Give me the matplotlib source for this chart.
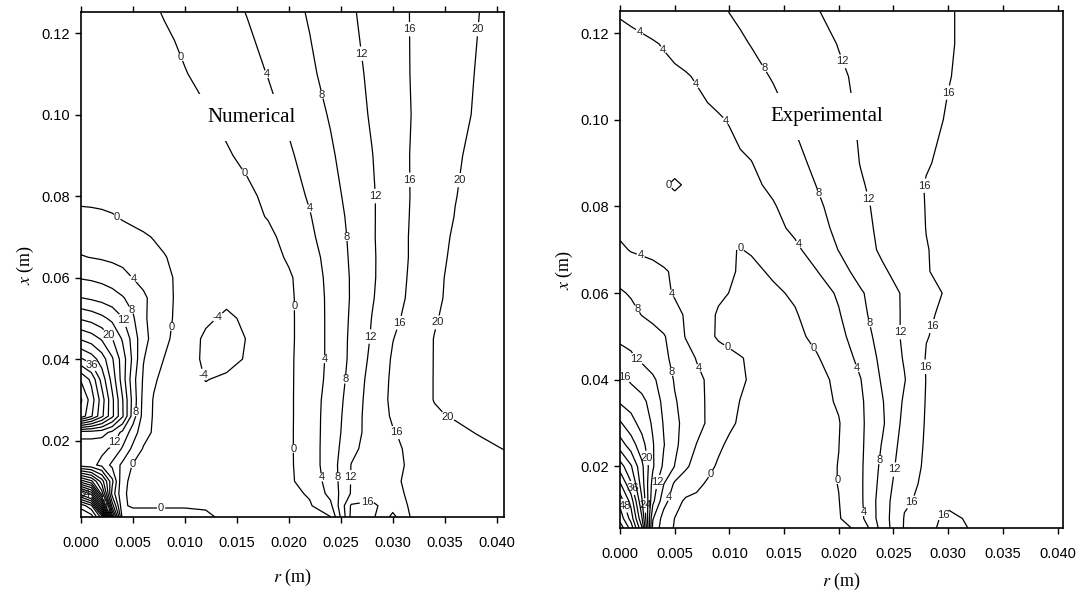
# Axial velocity contours, numerical vs experimental, recreated from the figure.
import numpy as np
import matplotlib
matplotlib.use("Agg")
import matplotlib.pyplot as plt
from matplotlib.ticker import FormatStrFormatter

plt.rcParams['font.family'] = 'Liberation Sans'
plt.rcParams['mathtext.fontset'] = 'stix'
plt.rcParams['contour.negative_linestyle'] = 'solid'

# ---- numerical field, rows = x, cols = r ----
r_num = [0, 0.001, 0.002, 0.003, 0.004, 0.005, 0.006, 0.007, 0.008, 0.009, 0.010,
         0.012, 0.014, 0.016, 0.018, 0.020, 0.022, 0.024, 0.026, 0.028, 0.030,
         0.032, 0.034, 0.036, 0.038, 0.041]
x_num = [0.00125, 0.004, 0.007, 0.010, 0.014, 0.018, 0.022, 0.026, 0.030, 0.035,
         0.040, 0.045, 0.050, 0.055, 0.060, 0.065, 0.070, 0.075, 0.080, 0.090,
         0.100, 0.110, 0.125]
v_num = [
    [92, 90, 78, 30, 2, 2, 2, 2, 2, 2, 2, 0.8, -1.0, -1.2, -1.2, -1.0, -0.6, -0.1, 17.0, 16.8, 11.0, 17.0, 17.2, 17.4, 17.6, 18.0],
    [86.5, 81, 55, 18, 0.5, -0.5, -0.5, -0.5, -0.5, -0.5, -0.5, -0.5, -1.0, -1.2, -1.2, -1.0, -0.4, 3.0, 16.5, 17.0, 13.5, 17.0, 17.2, 17.4, 17.6, 18.0],
    [66, 58, 34, 10.5, 0.3, -0.5, -0.8, -1.0, -1.2, -1.5, -1.7, -2.0, -2.0, -1.8, -1.5, -1.0, 0.4, 5.2, 12.3, 14.3, 15.4, 16.5, 17.0, 17.4, 17.8, 18.3],
    [42, 37, 26, 13, 0.5, -0.5, -1.0, -1.2, -1.5, -1.8, -2.0, -2.2, -2.2, -2.0, -1.5, -0.6, 1.6, 5.6, 12.2, 13.9, 15.6, 16.6, 17.0, 17.4, 17.8, 18.4],
    [14, 13, 11, 7, 3, -0.3, -1.0, -1.3, -1.6, -1.9, -2.2, -2.4, -2.4, -2.1, -1.5, -0.6, 2.1, 5.9, 12.1, 13.7, 15.5, 16.4, 17.0, 17.6, 18.2, 19.0],
    [13, 13, 12.8, 11.5, 7.5, 3.0, -0.3, -1.2, -1.7, -2.0, -2.3, -2.5, -2.5, -2.2, -1.6, -0.6, 2.2, 5.8, 11.1, 13.6, 15.5, 16.6, 17.4, 18.2, 19.0, 20.2],
    [18, 18, 17.5, 15, 11, 6, 1.5, -0.5, -1.4, -2.0, -2.3, -2.6, -2.6, -2.3, -1.6, -0.6, 2.2, 5.7, 10.3, 13.6, 15.8, 17.0, 18.1, 19.2, 20.1, 20.8],
    [50.5, 44.5, 37, 29, 20.5, 10, 2.5, -0.4, -1.4, -2.0, -2.3, -2.8, -2.8, -2.5, -1.8, -0.6, 2.1, 5.7, 9.9, 13.9, 16.4, 18.0, 19.6, 20.3, 20.6, 21.0],
    [52.5, 46, 38, 29, 20.2, 10.5, 2.8, -0.3, -1.5, -2.0, -2.3, -3.2, -3.2, -2.8, -2.0, -0.6, 2.1, 5.5, 9.6, 13.8, 16.7, 18.5, 20.1, 20.8, 21.2, 21.6],
    [47.5, 43, 34.5, 26.5, 18, 9.5, 3.5, 0.6, -1.2, -2.0, -2.5, -4.1, -3.5, -3.0, -2.1, -0.6, 2.0, 5.0, 9.2, 13.5, 16.6, 18.5, 20.1, 21.0, 21.5, 22.0],
    [36.5, 34, 30, 24.5, 18, 11, 4.2, 1.8, -0.1, -1.5, -2.8, -4.5, -5.0, -3.7, -2.3, -0.6, 1.9, 4.8, 8.8, 12.9, 16.4, 18.3, 20.1, 21.1, 21.6, 22.2],
    [27.5, 26, 23.5, 20.2, 15.5, 10.5, 5.0, 3.0, 1.0, -0.8, -2.8, -4.4, -5.0, -3.9, -2.5, -0.7, 1.9, 4.8, 8.7, 12.4, 15.9, 18.0, 20.1, 21.2, 21.7, 22.4],
    [19.5, 18.5, 17.0, 15.0, 12.2, 8.5, 4.6, 2.8, 1.2, -0.3, -2.0, -3.6, -4.4, -3.6, -2.4, -0.7, 1.9, 4.8, 8.5, 12.1, 15.1, 17.5, 19.7, 21.2, 21.7, 22.5],
    [12.1, 11.4, 10.6, 9.6, 8.3, 6.6, 4.6, 3.0, 1.5, -0.2, -1.2, -3.0, -3.5, -3.2, -2.3, -0.7, 2.0, 4.8, 8.3, 11.7, 14.5, 17.0, 19.3, 21.0, 21.6, 22.5],
    [7.7, 7.4, 6.9, 6.2, 5.2, 3.9, 3.0, 2.0, 1.0, -0.2, -1.0, -2.3, -2.9, -2.8, -2.0, -0.5, 2.1, 5.0, 8.3, 11.5, 14.3, 16.8, 19.1, 21.0, 21.6, 22.5],
    [4.2, 3.9, 3.6, 3.2, 2.8, 2.3, 1.7, 1.0, 0.2, -0.6, -1.3, -2.2, -2.6, -2.4, -1.5, 0.5, 2.7, 5.2, 8.5, 11.5, 14.2, 16.6, 18.7, 20.8, 21.5, 22.5],
    [2.6, 2.5, 2.3, 2.0, 1.6, 1.1, 0.5, -0.2, -0.8, -1.3, -1.8, -2.2, -2.2, -1.8, -0.8, 1.2, 3.3, 5.8, 8.6, 11.6, 14.2, 16.6, 18.5, 20.5, 21.3, 22.4],
    [1.0, 0.9, 0.7, 0.3, -0.4, -1.0, -1.5, -2.0, -2.0, -2.0, -2.0, -2.0, -2.0, -1.0, 0.2, 2.0, 3.8, 6.2, 8.8, 11.6, 14.1, 16.5, 18.3, 20.1, 21.0, 22.3],
    [-1.0, -1.1, -1.3, -1.5, -2.0, -2.0, -2.0, -2.0, -2.0, -2.0, -2.0, -2.0, -1.5, -0.8, 0.85, 2.6, 4.35, 6.7, 9.1, 11.6, 14.1, 16.4, 18.2, 19.9, 21.0, 22.3],
    [-2.0, -2.0, -2.0, -2.0, -2.0, -2.0, -2.0, -2.0, -2.0, -2.0, -1.9, -1.2, -0.4, 0.9, 2.2, 3.5, 5.4, 7.5, 9.7, 11.9, 14.3, 16.4, 18.0, 19.6, 20.7, 22.0],
    [-2.0, -2.0, -2.0, -2.0, -2.0, -2.0, -2.0, -2.0, -2.0, -1.6, -1.1, -0.3, 0.9, 2.1, 3.2, 4.6, 6.5, 8.3, 10.4, 12.4, 14.5, 16.2, 17.6, 19.0, 20.3, 22.0],
    [-2.0, -2.0, -2.0, -2.0, -2.0, -2.0, -2.0, -2.0, -1.4, -0.8, -0.15, 0.9, 1.95, 3.0, 4.1, 5.8, 7.4, 9.1, 10.9, 12.7, 14.6, 16.3, 17.6, 18.9, 20.1, 22.0],
    [-2.0, -2.0, -2.0, -2.0, -2.0, -2.0, -1.2, -0.4, 0.2, 0.67, 1.16, 2.1, 3.1, 4.1, 5.5, 6.9, 8.3, 9.9, 11.6, 13.2, 14.8, 16.3, 17.5, 18.6, 19.8, 21.6],
]

# ---- experimental field ----
r_exp = [0, 0.001, 0.002, 0.003, 0.004, 0.005, 0.006, 0.007, 0.008, 0.009, 0.010,
         0.011, 0.012, 0.014, 0.016, 0.018, 0.020, 0.022, 0.024, 0.026, 0.028,
         0.030, 0.033, 0.036, 0.041]
x_exp = [0.0058, 0.008, 0.012, 0.016, 0.020, 0.025, 0.030, 0.035, 0.040, 0.045,
         0.050, 0.055, 0.060, 0.065, 0.070, 0.075, 0.080, 0.085, 0.090, 0.100,
         0.110, 0.1175, 0.125]
v_exp = [
    [58.5, 50.5, 36.5, 6.8, 2.0, -0.3, -0.6, -0.7, -0.8, -0.8, -0.9, -0.9, -0.9, -1.0, -1.0, -1.0, -0.8, 0.6, 9.8, 16.3, 17.3, 14.5, 17.0, 17.4, 17.8],
    [54.5, 46.5, 32.5, 8.3, 2.3, -0.05, -0.6, -0.9, -1.0, -1.1, -1.2, -1.2, -1.3, -1.4, -1.4, -1.3, -0.3, 3.0, 10.1, 16.2, 17.5, 15.0, 17.3, 17.6, 18.0],
    [50.5, 42.5, 28.5, 13, 5.5, 1.5, -0.6, -1.0, -1.2, -1.4, -1.5, -1.6, -1.6, -1.7, -1.6, -1.3, -0.1, 3.3, 10.1, 15.6, 16.7, 17.0, 17.3, 17.6, 18.0],
    [44.5, 36.5, 26, 14.5, 8.1, 3.4, 2.2, 1.0, -0.5, -1.0, -1.3, -1.5, -1.6, -1.7, -1.7, -1.3, 0.1, 3.4, 9.5, 15.0, 16.6, 17.0, 17.3, 17.6, 18.0],
    [38, 32.5, 25, 16.5, 11.2, 7.9, 4.5, 2.8, 1.2, -0.6, -1.2, -1.5, -1.7, -1.8, -1.8, -1.3, 0.1, 3.4, 9.0, 14.3, 16.5, 16.9, 17.3, 17.6, 18.0],
    [30, 26, 21.5, 16.3, 12.2, 8.9, 6.2, 3.9, 2.5, 0.8, -0.8, -1.4, -1.6, -1.8, -1.8, -1.4, -0.05, 3.3, 8.3, 13.7, 16.4, 16.9, 17.3, 17.6, 18.0],
    [24.5, 21.5, 18.5, 15.5, 11.7, 8.8, 7.0, 5.3, 3.6, 2.2, 0.8, -0.6, -1.2, -1.6, -1.7, -1.3, -0.2, 3.3, 7.5, 13.1, 16.3, 16.9, 17.4, 17.7, 18.1],
    [19.5, 18.3, 17.0, 14.5, 11.0, 8.3, 6.8, 5.2, 3.6, 2.4, 1.2, -0.1, -0.8, -1.5, -1.6, -1.2, 0.4, 3.4, 7.8, 12.5, 16.2, 16.8, 17.3, 17.7, 18.1],
    [17.0, 15.5, 14.2, 12.7, 10.2, 7.7, 6.3, 4.9, 3.6, 2.7, 1.6, 0.6, -0.5, -1.5, -1.6, -1.1, 0.8, 3.9, 8.5, 11.8, 16.1, 16.8, 17.3, 17.7, 18.1],
    [13.5, 12.6, 11.3, 9.9, 8.6, 7.3, 5.6, 3.8, 2.7, 1.8, 1.0, 0.2, -0.5, -1.5, -1.5, -0.3, 2.1, 4.9, 9.1, 12.3, 16.2, 16.6, 17.2, 17.7, 18.1],
    [11.2, 10.8, 10.2, 9.4, 8.3, 6.4, 3.8, 2.5, 1.0, -0.5, -1.2, -1.6, -1.8, -1.7, -0.9, 0.9, 2.9, 6.1, 9.6, 12.6, 15.9, 16.7, 17.1, 17.6, 18.1],
    [10.0, 9.2, 7.9, 7.0, 6.0, 4.9, 3.7, 2.4, 1.0, -0.4, -1.0, -1.4, -1.6, -1.4, -0.3, 1.7, 3.7, 7.1, 9.9, 12.5, 15.8, 16.3, 17.0, 17.6, 18.1],
    [8.5, 7.6, 6.8, 5.8, 4.7, 3.7, 2.8, 2.0, 1.3, 0.6, -0.05, -0.6, -1.0, -0.6, 0.5, 2.2, 4.5, 7.6, 10.1, 12.5, 15.2, 16.3, 17.0, 17.6, 18.1],
    [6.2, 5.8, 5.3, 4.9, 4.3, 3.6, 3.0, 2.4, 1.8, 1.1, 0.4, -0.3, -0.8, 0.5, 2.2, 3.9, 6.6, 9.3, 11.5, 13.5, 15.9, 16.5, 17.2, 17.7, 18.2],
    [4.6, 3.8, 3.5, 3.2, 2.8, 2.4, 2.0, 1.5, 1.0, 0.6, 0.2, -0.1, 0.3, 1.5, 3.3, 5.6, 8.1, 10.4, 12.6, 14.2, 15.9, 16.7, 17.3, 17.8, 18.3],
    [3.2, 2.9, 2.6, 2.3, 2.1, 1.9, 1.7, 1.6, 1.5, 1.4, 1.3, 1.4, 1.8, 3.0, 4.7, 6.8, 8.8, 10.9, 12.8, 14.4, 16.05, 16.8, 17.4, 17.9, 18.4],
    [1.3, 1.4, 1.5, 1.7, 1.9, 2.0, 2.1, 2.2, 2.3, 2.4, 2.5, 2.7, 3.0, 3.7, 5.6, 7.4, 9.3, 11.2, 13.0, 14.6, 16.1, 16.8, 17.4, 17.9, 18.4],
    [1.4, 1.4, 1.5, 1.0, 0.6, -0.8, 0.5, 1.3, 1.8, 2.2, 2.5, 2.9, 3.3, 4.7, 6.3, 8.1, 9.9, 11.7, 13.2, 14.8, 16.15, 16.8, 17.4, 17.9, 18.4],
    [1.6, 1.7, 1.8, 1.9, 1.9, 2.0, 2.2, 2.4, 2.6, 2.9, 3.2, 3.6, 3.9, 5.5, 7.1, 8.7, 10.3, 12.1, 13.3, 14.5, 15.8, 16.6, 17.3, 17.8, 18.3],
    [2.0, 2.1, 2.3, 2.4, 2.6, 2.8, 3.0, 3.2, 3.5, 3.75, 4.15, 4.85, 5.55, 6.95, 8.3, 9.7, 11.1, 12.3, 13.3, 14.3, 15.3, 16.2, 17.0, 17.6, 18.3],
    [2.6, 2.8, 3.0, 3.2, 3.4, 3.6, 3.8, 4.2, 4.75, 5.3, 5.9, 6.5, 7.1, 8.2, 9.4, 10.5, 11.6, 12.5, 13.4, 14.2, 15.0, 15.9, 16.9, 17.6, 18.3],
    [3.0, 3.3, 3.5, 3.8, 4.15, 4.6, 5.1, 5.6, 6.1, 6.6, 7.1, 7.6, 8.1, 9.1, 10.1, 11.1, 12.1, 12.9, 13.6, 14.4, 15.1, 15.8, 16.8, 17.5, 18.3],
    [4.3, 4.6, 5.0, 5.3, 5.6, 6.0, 6.3, 6.7, 7.0, 7.5, 8.05, 8.5, 9.0, 9.9, 10.9, 11.9, 12.6, 13.2, 13.9, 14.5, 15.2, 15.8, 16.8, 17.5, 18.3],
]

levels_num = [-4, 0, 4, 8, 12, 16, 20, 24, 28, 32, 36, 40, 44, 48, 52, 56, 60,
              64, 68, 72, 76, 80, 84, 88]
levels_exp = [0, 4, 8, 12, 16, 20, 24, 28, 32, 36, 40, 44, 48, 52, 56]

r_ticks = [0.000, 0.005, 0.010, 0.015, 0.020, 0.025, 0.030, 0.035, 0.040]
x_ticks = [0.02, 0.04, 0.06, 0.08, 0.10, 0.12]

# where the contour labels sit (layout only, taken from the figure)
label_spots_num = [
    (0.0095, 0.114), (0.0158, 0.0859), (0.0204, 0.053), (0.0206, 0.018),
    (0.0179, 0.110), (0.0220, 0.077), (0.0236, 0.040), (0.0233, 0.011),
    (0.0233, 0.105), (0.0256, 0.070), (0.0255, 0.035), (0.0246, 0.011),
    (0.0271, 0.115), (0.0283, 0.080), (0.0280, 0.0455), (0.0259, 0.011),
    (0.0315, 0.121), (0.0315, 0.084), (0.0305, 0.049), (0.0303, 0.022), (0.0275, 0.0052),
    (0.0381, 0.121), (0.0362, 0.084), (0.0343, 0.049), (0.0350, 0.0245),
    (0.0130, 0.0508), (0.0114, 0.0360),
    (0.0035, 0.075), (0.0086, 0.048), (0.0048, 0.0145), (0.0077, 0.0028),
    (0.0052, 0.0600), (0.0052, 0.027),
    (0.0048, 0.0520), (0.0042, 0.0497), (0.0026, 0.0458), (0.0013, 0.0390),
    (0.0033, 0.0195), (0.0004, 0.0070), (0.0024, 0.0045),
]
label_spots_exp = [
    (0.0018, 0.1204), (0.0043, 0.1168), (0.0073, 0.1087), (0.0098, 0.100),
    (0.0162, 0.0711), (0.0218, 0.0428), (0.0225, 0.0095),
    (0.0132, 0.1119), (0.0182, 0.083), (0.0227, 0.053), (0.0236, 0.0215),
    (0.0204, 0.1135), (0.0225, 0.0817), (0.0255, 0.051), (0.0251, 0.0193),
    (0.0302, 0.1062), (0.0276, 0.0848), (0.0285, 0.0524), (0.0279, 0.043),
    (0.0263, 0.0123), (0.0292, 0.0098),
    (0.0110, 0.0708), (0.0178, 0.0476), (0.0199, 0.0169), (0.0100, 0.0482),
    (0.0086, 0.0179), (0.0045, 0.0850),
    (0.0020, 0.0695), (0.0048, 0.0600), (0.0072, 0.0427), (0.0045, 0.0130),
    (0.0014, 0.0561), (0.0046, 0.0418), (0.0016, 0.0450), (0.0035, 0.0164),
    (0.0007, 0.0416), (0.0023, 0.0110), (0.0025, 0.0220), (0.0011, 0.0150),
    (0.0005, 0.0110),
]

fig = plt.figure(figsize=(10.76, 5.96), dpi=100)
ax1 = fig.add_axes([0.0753, 0.1326, 0.3931, 0.8473])
ax2 = fig.add_axes([0.5762, 0.1141, 0.4117, 0.8674])

panels = [
    (ax1, r_num, x_num, v_num, levels_num, label_spots_num, 'Numerical',
     (0.0164, 0.0992), (0.0407, 0.00125, 0.1252), 12),
    (ax2, r_exp, x_exp, v_exp, levels_exp, label_spots_exp, 'Experimental',
     (0.0189, 0.1007), (0.0405, 0.0058, 0.1251), 7),
]

for ax, rr, xx, vv, lev, spots, name, tpos, lims, xpad in panels:
    R, X = np.meshgrid(rr, xx)
    cs = ax.contour(R, X, np.array(vv), levels=lev, colors='black', linewidths=0.9)
    labels = ax.clabel(cs, fmt='%d', fontsize=8, inline=True, inline_spacing=1,
                       manual=spots)
    for t in labels:
        t.set_rotation(0)
        t.set_color('#222222')

    ax.text(tpos[0], tpos[1], name, fontfamily='Liberation Serif', fontsize=15,
            ha='center', va='center', zorder=5,
            bbox=dict(facecolor='white', edgecolor='none', pad=10))

    ax.set_xlim(0, lims[0])
    ax.set_ylim(lims[1], lims[2])
    ax.set_xticks(r_ticks)
    ax.set_yticks(x_ticks)
    ax.xaxis.set_major_formatter(FormatStrFormatter('%.3f'))
    ax.yaxis.set_major_formatter(FormatStrFormatter('%.2f'))
    ax.tick_params(axis='both', direction='out', length=4, width=1, labelsize=10.5,
                   top=True, right=False)
    ax.tick_params(axis='x', pad=10)
    ax.tick_params(axis='y', pad=4)
    for s in ax.spines.values():
        s.set_linewidth(1.2)

    ax.set_xlabel(r'$r$ (m)', fontfamily='Liberation Serif', fontsize=13, labelpad=xpad)
    ax.set_ylabel(r'$x$ (m)', fontfamily='Liberation Serif', fontsize=13, labelpad=4)

fig.savefig('out.png', dpi=100)
